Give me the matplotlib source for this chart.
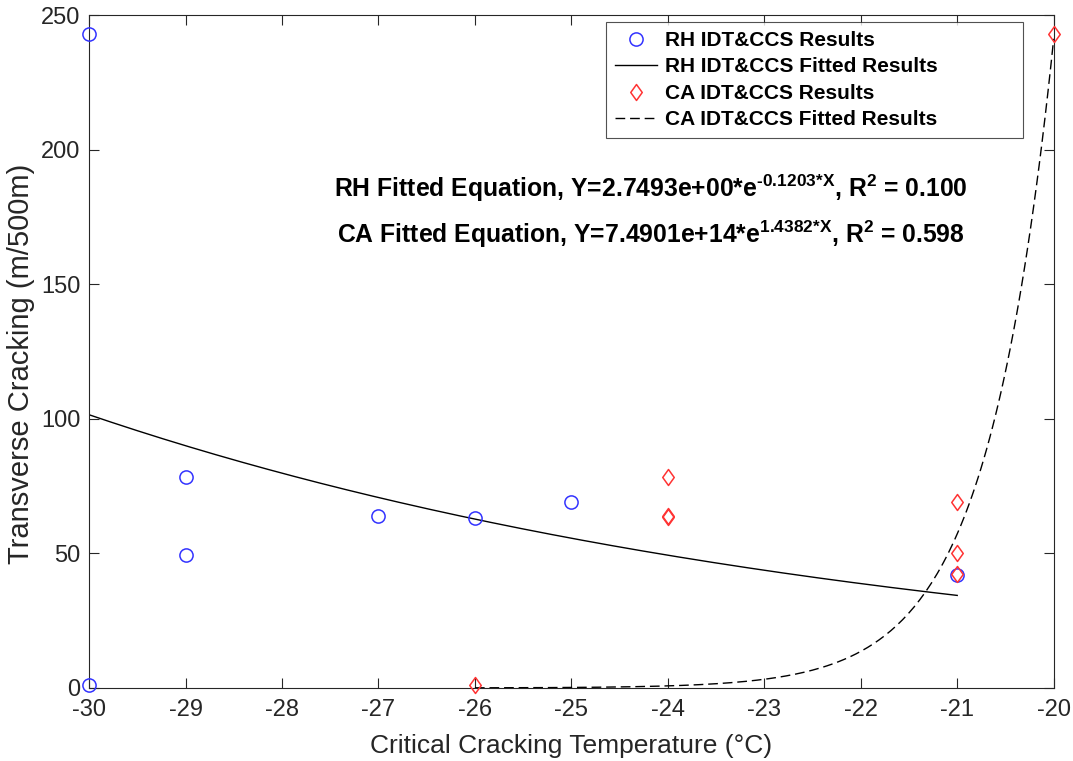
import numpy as np
import matplotlib.pyplot as plt
from matplotlib.path import Path

plt.rcParams['font.family'] = ['Liberation Sans', 'DejaVu Sans']
plt.rcParams['axes.unicode_minus'] = False
plt.rcParams['mathtext.fontset'] = 'custom'
plt.rcParams['mathtext.rm'] = 'Liberation Sans:bold'
plt.rcParams['mathtext.it'] = 'Liberation Sans:bold'
plt.rcParams['mathtext.bf'] = 'Liberation Sans:bold'

# RH mixes: critical cracking temperature vs transverse cracking
rh_temp = [-30, -30, -29, -29, -27, -26, -25, -21]
rh_crack = [243, 1, 78.5, 49.5, 64, 63, 69, 42]

# CA mixes
ca_temp = [-26, -24, -24, -24, -21, -21, -21, -20]
ca_crack = [1, 78.5, 63.5, 64, 69, 50, 42.5, 243]

# exponential fit parameters Y = a*exp(b*X), plus R^2
rh_fit = (2.7493e+00, -0.1203, 0.100)
ca_fit = (7.4901e+14, 1.4382, 0.598)
rh_range = (-30, -21)
ca_range = (-26, -20)

# slightly tall diamond
diamond = Path([(0, 1), (0.72, 0), (0, -1), (-0.72, 0), (0, 1)],
               [Path.MOVETO, Path.LINETO, Path.LINETO, Path.LINETO, Path.CLOSEPOLY])

fig = plt.figure(figsize=(10.73, 7.61), dpi=100)
ax = fig.add_axes([0.083, 0.096, 0.899, 0.884])

ax.plot(rh_temp, rh_crack, 'o', mfc='none', mec='#3333ff', ms=9.5, mew=1.1,
        label='RH IDT&CCS Results', zorder=3, clip_on=False)
x_rh = np.linspace(*rh_range, 200)
ax.plot(x_rh, rh_fit[0] * np.exp(rh_fit[1] * x_rh), '-', color='black', lw=1.0,
        label='RH IDT&CCS Fitted Results')
ax.plot(ca_temp, ca_crack, ls='none', marker=diamond, mfc='none', mec='#ff3333',
        ms=11.5, mew=1.1, label='CA IDT&CCS Results', zorder=3, clip_on=False)
x_ca = np.linspace(*ca_range, 200)
ax.plot(x_ca, ca_fit[0] * np.exp(ca_fit[1] * x_ca), '--', color='black', lw=1.0,
        dashes=(7, 3.5), label='CA IDT&CCS Fitted Results')

ax.set_xlim(-30, -20)
ax.set_ylim(0, 250)
ax.set_xticks(np.arange(-30, -19, 1))
ax.set_yticks(np.arange(0, 251, 50))
ax.tick_params(direction='in', top=True, right=True, labelsize=17,
               colors='#262626', length=7, width=0.8)
ax.tick_params(axis='x', pad=8)
ax.tick_params(axis='y', pad=6)
for s in ax.spines.values():
    s.set_color('#262626')
    s.set_linewidth(0.8)
ax.set_xlabel('Critical Cracking Temperature (°C)', fontsize=19, color='#262626',
              labelpad=9)
ax.set_ylabel('Transverse Cracking (m/500m)', fontsize=21, color='#262626')
ax.yaxis.set_label_coords(-0.056, 0.481)

# legend stretched to a fixed width, text stays left
leg = ax.legend(loc='upper left', bbox_to_anchor=(0.536, 0.4, 0.432, 0.5896),
                mode='expand',
                prop={'weight': 'bold', 'size': 15}, frameon=True, fancybox=False,
                borderpad=0.42, labelspacing=0.36, handlelength=2.0, handletextpad=0.4,
                borderaxespad=0.0)
leg.get_frame().set_edgecolor('#262626')
leg.get_frame().set_linewidth(0.8)

ax.text(0.582, 0.742,
        r'RH Fitted Equation, Y=%.4fe+00*e$^{\text{%.4f*X}}$, R$^{2}$ = %.3f'
        % (rh_fit[0], rh_fit[1], rh_fit[2]),
        transform=ax.transAxes, ha='center', va='center', fontsize=17.8, fontweight='bold')
ax.text(0.582, 0.675,
        r'CA Fitted Equation, Y=%.4fe+14*e$^{\text{%.4f*X}}$, R$^{2}$ = %.3f'
        % (ca_fit[0] / 1e14, ca_fit[1], ca_fit[2]),
        transform=ax.transAxes, ha='center', va='center', fontsize=17.8, fontweight='bold')

fig.savefig('out.png', dpi=100)
